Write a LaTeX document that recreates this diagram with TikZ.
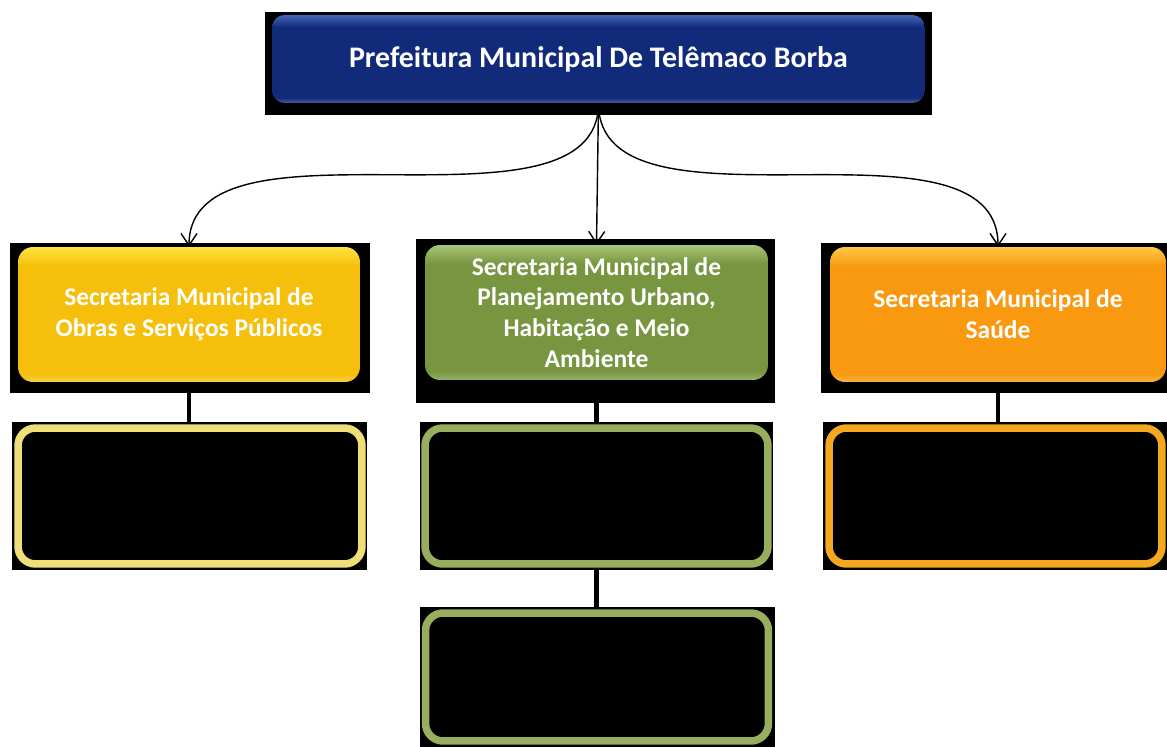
\documentclass[tikz,border=0pt]{standalone}
\usepackage{fontspec}
\setmainfont{Carlito}
\usetikzlibrary{positioning,arrows.meta}

\definecolor{prefblue}{HTML}{112A7A}
\definecolor{prefblueL}{HTML}{4665B5}
\definecolor{obrasY}{HTML}{F6BF0C}
\definecolor{obrasYL}{HTML}{FFE43E}
\definecolor{planG}{HTML}{789640}
\definecolor{planGL}{HTML}{A8C478}
\definecolor{saudeO}{HTML}{F8990F}
\definecolor{saudeOL}{HTML}{FFC848}
\definecolor{obrasRim}{HTML}{F0DE78}
\definecolor{planRim}{HTML}{98AE5E}
\definecolor{saudeRim}{HTML}{F4A81E}

% glossy fill: flat main colour, light rim at the top, soft edge at the bottom
\newcommand{\glossshade}[3]{%
  \pgfdeclareverticalshading{#1}{100bp}{color(0bp)=(#2!75!white); color(25bp)=(#2!75!white);
    color(28bp)=(#2); color(68bp)=(#2); color(75bp)=(#3); color(100bp)=(#3)}}
\glossshade{prefgloss}{prefblue}{prefblueL}
\glossshade{obrasgloss}{obrasY}{obrasYL}
\glossshade{plangloss}{planG}{planGL}
\glossshade{saudegloss}{saudeO}{saudeOL}

\begin{document}
\begin{tikzpicture}[
        x=0.02cm, y=-0.02cm,
        >={Straight Barb[length=2.4mm,width=3.2mm]},
        topbox/.style={rectangle, rounded corners=2.5mm, text=white, align=center,
                       minimum width=13.06cm, minimum height=1.76cm,
                       font=\fontsize{17}{20}\selectfont\bfseries},
        secbox/.style={rectangle, rounded corners=3mm, text=white, align=center,
                       minimum height=2.7cm, font=\fontsize{14.5}{17.5}\selectfont\bfseries},
        subbox/.style={rectangle, rounded corners=3.5mm, fill=black, line width=1.5mm,
                       minimum height=2.72cm},
        arr/.style={->, line width=0.8pt},
        link/.style={line width=2.4pt},
    ]
        \useasboundingbox (0,0) rectangle (1167,747);
        % black frames behind the boxes
        \foreach \xa/\ya/\xb/\yb in {265/12/932/115, 10/243/370/393, 416/239/775/403,
                                     821/243/1167/393, 12/422/367/570, 420/422/773/570,
                                     420/607/775/747, 823/422/1167/570} {
            \fill[black] (\xa,\ya) rectangle (\xb,\yb);
        }
        \node[topbox, shading=prefgloss] (pref) at (598.5,59) {Prefeitura Municipal De Telêmaco Borba};
        \node[secbox, minimum width=6.84cm, shading=obrasgloss]
            (sobras) at (189,314.5) {Secretaria Municipal de\\Obras e Serviços Públicos};
        \node[secbox, minimum width=6.86cm, shading=plangloss]
            (splan) at (596.5,312.5) {Secretaria Municipal de\\Planejamento Urbano,\\Habitação e Meio\\Ambiente};
        \node[secbox, minimum width=6.72cm, shading=saudegloss]
            (ssaude) at (998,314.5) {Secretaria Municipal de\\Saúde};
        \node[subbox, draw=obrasRim, minimum width=6.88cm] (cobras) at (190,496) {};
        \node[subbox, draw=planRim, minimum width=6.86cm] (cplan1) at (596.5,496) {};
        \node[subbox, draw=planRim, minimum width=6.86cm, minimum height=2.56cm] (cplan2) at (597,677) {};
        \node[subbox, draw=saudeRim, minimum width=6.66cm] (csaude) at (995.5,496) {};
        % arrows from the prefeitura
        \draw[arr] (pref.south) .. controls +(0,144) and +(0,-144) .. (sobras.north);
        \draw[arr] (pref.south) -- (splan.north);
        \draw[arr] (pref.south) .. controls +(0,144) and +(0,-144) .. (ssaude.north);
        % links to the empty boxes
        \draw[link] (sobras.south) -- (sobras.south |- cobras.north);
        \draw[link] (splan.south) -- (splan.south |- cplan1.north);
        \draw[link] (cplan1.south) -- (cplan1.south |- cplan2.north);
        \draw[link] (ssaude.south) -- (ssaude.south |- csaude.north);
    \end{tikzpicture}
\end{document}
